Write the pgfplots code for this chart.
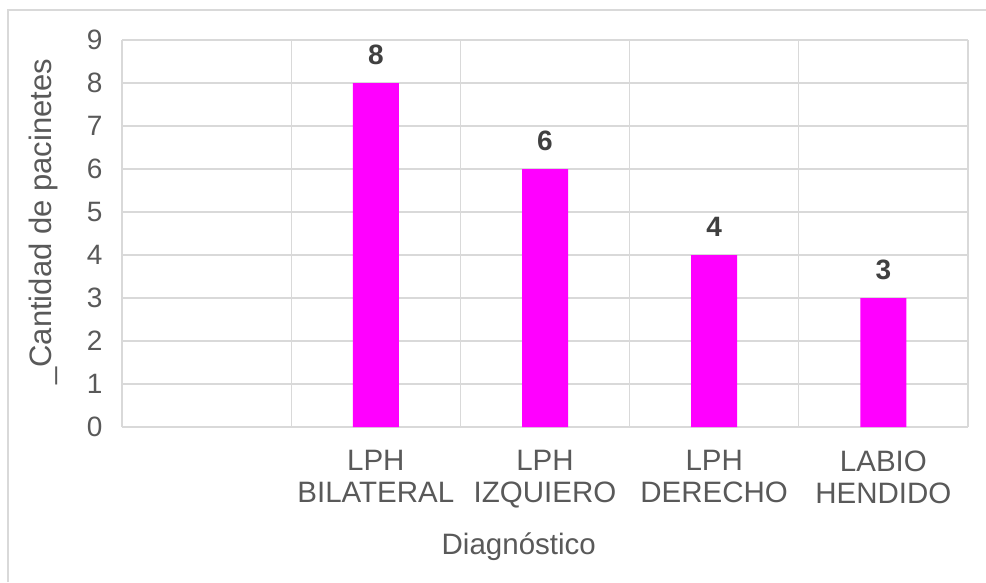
\documentclass[border=0pt]{standalone}
\usepackage{pgfplots}
\pgfplotsset{compat=1.18}
\usepackage{fontspec}
\setmainfont{Liberation Sans}
\definecolor{txt}{HTML}{595959}
\definecolor{lbl}{HTML}{404040}
\definecolor{grd}{HTML}{D9D9D9}
\definecolor{mag}{HTML}{FF00FF}
\begin{document}
\begin{tikzpicture}[x=1pt,y=1pt]
\path[use as bounding box] (0,0) rectangle (986,582);
\draw[grd, line width=1.5pt] (8,0) -- (8,572) -- (986,572);
\begin{axis}[at={(122pt,155pt)}, anchor=south west, scale only axis,
  width=846pt, height=387pt,
  xmin=-0.5, xmax=4.5, ymin=0, ymax=9,
  ytick={0,...,9},
  xtick={1,2,3,4},
  xticklabels={{LPH\\BILATERAL},{LPH\\IZQUIERO},{LPH\\DERECHO},{LABIO\\HENDIDO}},
  minor xtick={-0.5,0.5,1.5,2.5,3.5,4.5},
  xminorgrids, ymajorgrids,
  grid style={grd, line width=1.2pt},
  minor grid style={grd, line width=1.2pt},
  axis line style={draw=none},
  major tick length=0pt, minor tick length=0pt,
  tick label style={font=\fontsize{28}{32}\selectfont, text=txt},
  /pgf/number format/assume math mode=true,
  xticklabel style={align=center, font=\fontsize{29.5}{32}\selectfont, yshift=-20pt},
  yticklabel style={anchor=east, xshift=-16pt},
  xlabel={Diagnóstico},
  ylabel={\_Cantidad de pacinetes},
  label style={font=\fontsize{29.5}{32}\selectfont, text=txt},
  xlabel style={at={(axis description cs:0.469,-0.31)}, anchor=center},
  ylabel style={at={(axis description cs:-0.093,0.53)}, anchor=center, rotate=0, font=\fontsize{31}{32}\selectfont},
  ybar, bar width=46pt,
  nodes near coords,
  every node near coord/.append style={font=\bfseries\fontsize{28}{30}\selectfont, text=lbl, anchor=center, yshift=28pt},
]
\addplot[fill=mag, draw=none] coordinates {(1,8) (2,6) (3,4) (4,3)};
\end{axis}
\end{tikzpicture}
\end{document}
